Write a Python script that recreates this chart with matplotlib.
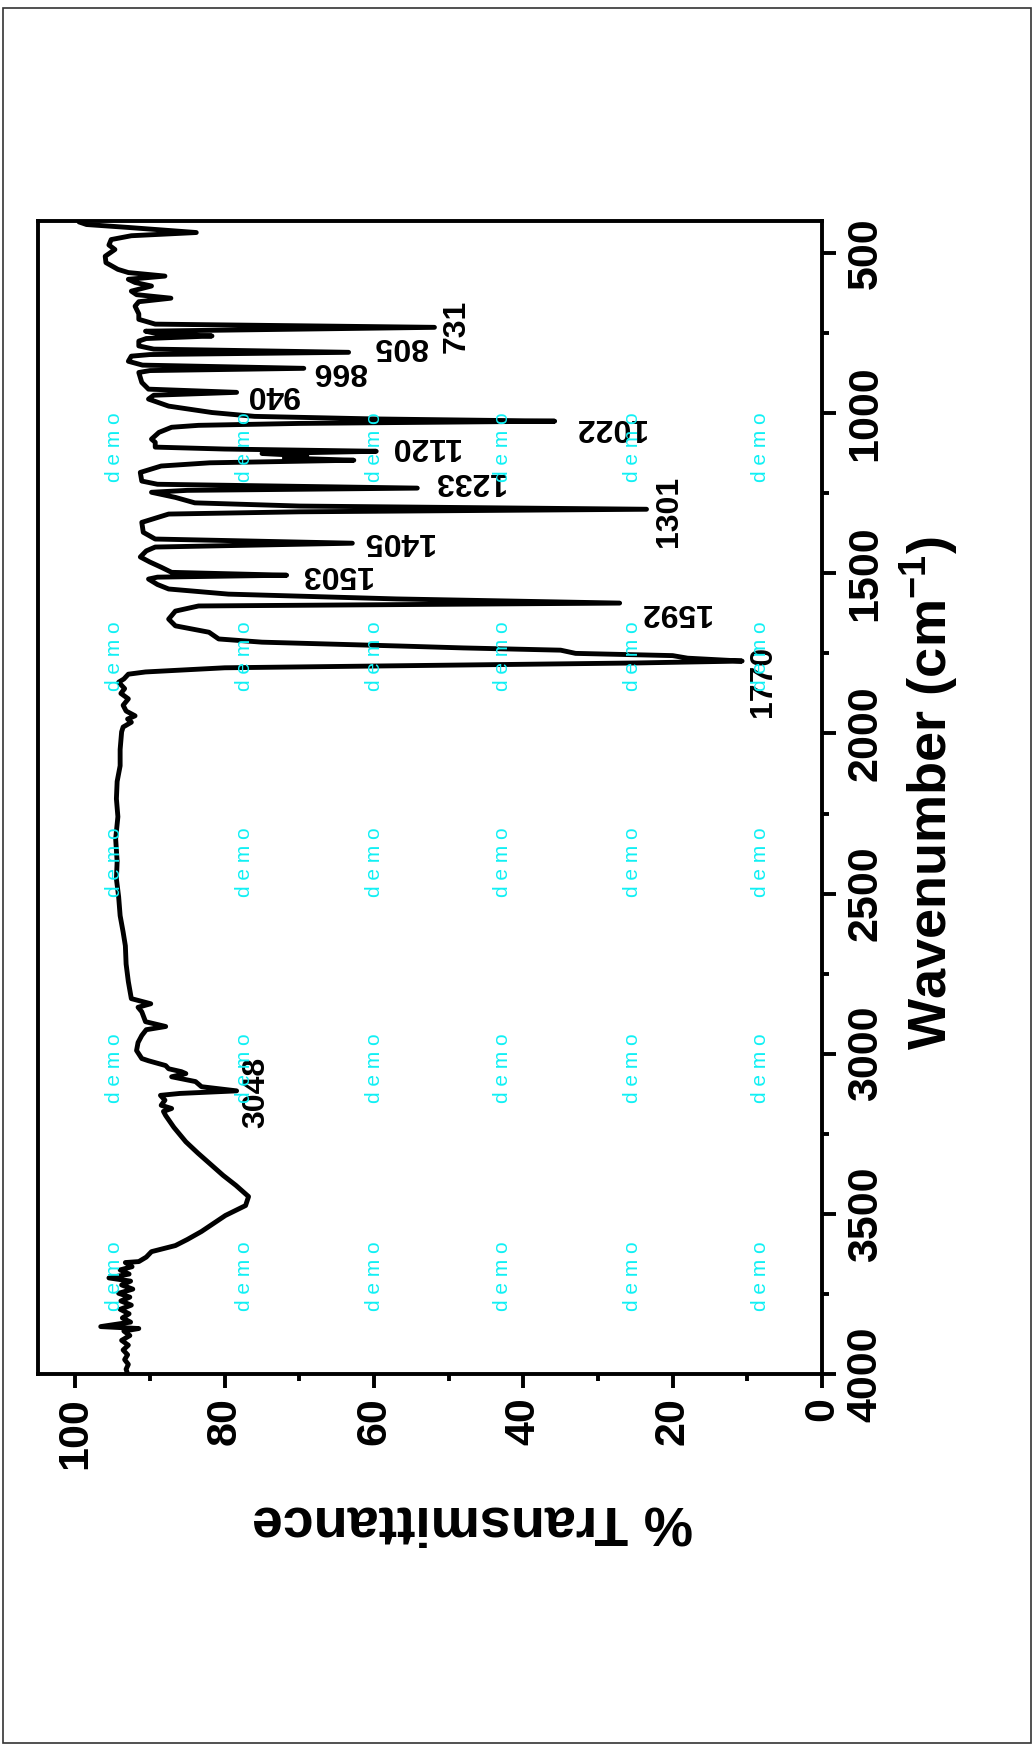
import matplotlib
matplotlib.use('Agg')
import matplotlib.pyplot as plt
from matplotlib.patches import Rectangle
from matplotlib.ticker import MultipleLocator

plt.rcParams['font.family'] = ['Liberation Sans', 'DejaVu Sans']
plt.rcParams['mathtext.fontset'] = 'custom'
plt.rcParams['mathtext.rm'] = 'Liberation Sans:bold'
plt.rcParams['mathtext.bf'] = 'Liberation Sans:bold'

# IR spectrum (wavenumber in cm-1, % transmittance)
wavenumber = [403, 411, 420, 436, 446, 458, 475, 489, 510, 530, 551, 561, 572, 582, 592,
              603, 619, 630, 641, 652, 666, 690, 707, 722, 732, 744, 752, 759, 767, 775,
              790, 800, 810, 817, 822, 838, 850, 860, 867, 873, 904, 925, 935, 944, 956,
              978, 998, 1010, 1018, 1025, 1032, 1038, 1044, 1060, 1081, 1091, 1106, 1112,
              1119, 1126, 1133, 1140, 1147, 1155, 1165, 1185, 1212, 1222, 1234, 1241, 1247,
              1263, 1280, 1290, 1300, 1308, 1315, 1341, 1372, 1393, 1406, 1418, 1430, 1449,
              1465, 1481, 1497, 1506, 1512, 1518, 1535, 1549, 1565, 1580, 1593, 1602, 1618,
              1643, 1664, 1684, 1705, 1715, 1727, 1733, 1740, 1750, 1757, 1765, 1774, 1780,
              1788, 1795, 1808, 1815, 1830, 1840, 1860, 1875, 1892, 1912, 1930, 1945, 1955,
              1965, 1980, 1995, 2050, 2101, 2150, 2204, 2260, 2329, 2400, 2454, 2510, 2569,
              2620, 2663, 2720, 2775, 2828, 2844, 2855, 2869, 2900, 2915, 2925, 2943, 2965,
              2990, 3015, 3022, 3037, 3047, 3056, 3062, 3072, 3087, 3103, 3116, 3124, 3130,
              3145, 3161, 3171, 3180, 3193, 3230, 3275, 3310, 3349, 3380, 3411, 3446, 3474,
              3505, 3530, 3555, 3580, 3599, 3618, 3635, 3649, 3652, 3665, 3675, 3688, 3700,
              3710, 3722, 3735, 3748, 3760, 3772, 3785, 3798, 3812, 3825, 3838, 3852, 3858,
              3866, 3880, 3895, 3910, 3925, 3940, 3955, 3970, 3985, 4000]
transmittance = [99.5, 98.5, 93.0, 83.8, 92.5, 95.2, 95.5, 94.7, 96.0, 95.9, 94.3, 92.9, 88.0, 92.9, 92.0,
                 89.8, 92.5, 91.8, 87.2, 91.5, 92.0, 91.5, 91.5, 89.3, 51.9, 90.6, 89.0, 81.7, 90.5, 91.5,
                 91.5, 89.5, 63.4, 90.0, 92.5, 92.9, 91.0, 69.4, 90.0, 91.5, 91.1, 90.2, 78.4, 89.5, 90.2,
                 87.5, 81.7, 76.0, 60.0, 35.8, 70.0, 83.5, 87.1, 88.8, 89.8, 89.3, 89.3, 80.0,
                 59.7, 75.0, 69.0, 72.0, 62.7, 82.0, 88.5, 91.3, 91.1, 89.0, 54.2, 85.0, 89.8,
                 86.6, 84.0, 70.0, 23.5, 70.0, 87.5, 91.1, 90.9, 89.3, 62.9, 89.3, 90.5, 91.3,
                 90.0, 88.5, 87.1, 71.7, 89.0, 90.2, 89.0, 87.5, 79.5, 57.0, 27.1, 83.5, 86.6,
                 87.5, 86.6, 82.1, 80.8, 75.0, 56.6, 48.0, 35.0, 33.0, 20.0, 18.0, 10.7, 25.0,
                 55.0, 80.0, 90.6, 92.9, 93.5, 94.2, 93.4, 93.9, 92.9, 93.6, 93.2, 92.0, 93.0,
                 92.5, 93.6, 93.8, 94.0, 94.0, 94.4, 94.5, 94.3, 94.6, 94.4, 94.5, 94.2, 94.0,
                 93.6, 93.3, 93.2, 92.9, 92.5, 89.9, 91.6, 91.1, 90.6, 87.9, 90.5, 91.1, 91.6,
                 91.8, 91.1, 90.2, 87.9, 87.5, 85.8, 85.2, 87.1, 83.9, 83.1, 78.4, 86.0, 88.6,
                 88.0, 88.5, 87.1, 88.2, 87.9, 86.8, 85.2, 83.6, 81.7, 80.2, 78.5, 76.8, 77.2,
                 79.9, 81.5, 83.1, 85.0, 86.6, 89.8, 90.5, 91.5, 93.3, 92.4, 94.0, 92.8, 95.5,
                 92.6, 93.8, 92.3, 94.2, 92.7, 93.9, 92.5, 94.0, 92.8, 93.7, 92.6, 96.6, 91.5,
                 93.5, 92.7, 93.8, 92.9, 93.6, 93.0, 93.4, 92.9, 93.2, 93.0]

# peak annotations
peak_labels = ['731', '805', '866', '940', '1022', '1120', '1233', '1301',
               '1405', '1503', '1592', '1770', '3048']
label_T = [49.0, 56.5, 64.7, 73.6, 28.5, 53.2, 47.4, 20.5, 56.8, 65.1, 19.7, 7.9, 75.8]
label_W = [729, 791, 869, 941, 1044, 1103, 1212, 1306, 1400, 1502, 1621, 1839, 3121]
upright = ['731', '1301', '1770', '3048']

W_PX, H_PX = 1033, 1746
fig = plt.figure(figsize=(W_PX / 100, H_PX / 100), dpi=100)

# outer frame
fig.patches.append(Rectangle((3 / W_PX, 3 / H_PX), 1028 / W_PX, 1735 / H_PX,
                             transform=fig.transFigure, fill=False,
                             edgecolor='#333333', linewidth=1.2))

ax = fig.add_axes([38 / W_PX, 1 - 1374 / H_PX, 784 / W_PX, 1153 / H_PX])
ax.plot(transmittance, wavenumber, color='black', lw=3.5,
        solid_joinstyle='round', solid_capstyle='round')
ax.set_xlim(105, 0)
ax.set_ylim(4000, 400)

ax.yaxis.tick_right()
ax.xaxis.set_major_locator(MultipleLocator(20))
ax.xaxis.set_minor_locator(MultipleLocator(10))
ax.yaxis.set_major_locator(MultipleLocator(500))
ax.yaxis.set_minor_locator(MultipleLocator(250))
ax.tick_params(which='major', direction='out', length=10, width=2.8, pad=7)
ax.tick_params(which='minor', direction='out', length=5, width=2.8)
ax.tick_params(axis='y', which='both', left=False, right=True)
for s in ax.spines.values():
    s.set_linewidth(2.8)

for lab in ax.get_xticklabels():
    lab.set_rotation(90)
    lab.set_fontsize(31)
    lab.set_fontweight('bold')
    lab.set_va('top')
for lab in ax.get_yticklabels():
    lab.set_rotation(90)
    lab.set_fontsize(31)
    lab.set_fontweight('bold')
    lab.set_va('center')

for s, t, w in zip(peak_labels, label_T, label_W):
    ax.text(t, w, s, rotation=90 if s in upright else 180, ha='center', va='center',
            fontsize=23, fontweight='bold')

# watermark
for cx in [115, 244, 374, 503, 632, 761]:
    for cy in [447, 656, 862, 1068, 1276]:
        fig.text(cx / W_PX, 1 - cy / H_PX, 'd e m o', rotation=90, ha='center', va='center',
                 fontsize=15, color='#10F0F4')

fig.text(929 / W_PX, 1 - 793 / H_PX, r'Wavenumber (cm$^{-1}$)', rotation=90,
         ha='center', va='center', fontsize=39, fontweight='bold')
fig.text(473 / W_PX, 1 - 1521 / H_PX, '% Transmittance', rotation=180,
         ha='center', va='center', fontsize=40, fontweight='bold')

fig.savefig('out.png', dpi=100)
